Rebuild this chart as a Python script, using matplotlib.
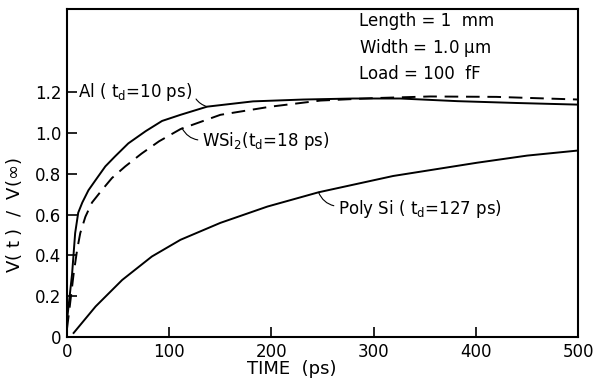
import matplotlib
matplotlib.use("Agg")
import matplotlib.pyplot as plt

# values
t_al = [0, 5, 8, 11, 15, 21, 28, 37.5, 47, 60, 77, 93, 111, 137, 182, 231, 280,
        326, 382, 440, 500]
v_al = [0.08, 0.31, 0.51, 0.61, 0.66, 0.72, 0.77, 0.837, 0.886, 0.95, 1.01, 1.06,
        1.09, 1.13, 1.156, 1.165, 1.17, 1.17, 1.157, 1.148, 1.14]

t_wsi = [0, 2, 6.5, 10, 13, 18, 24.5, 34, 44, 57, 73, 90, 111, 150, 199, 248, 300,
         355, 420, 500]
v_wsi = [0.04, 0.12, 0.31, 0.43, 0.51, 0.59, 0.66, 0.72, 0.78, 0.837, 0.90, 0.96,
         1.02, 1.09, 1.13, 1.16, 1.172, 1.18, 1.178, 1.165]

t_poly = [6.5, 28, 54, 83, 111, 150, 196, 246, 319, 401, 450, 500]
v_poly = [0.02, 0.15, 0.28, 0.395, 0.477, 0.56, 0.64, 0.71, 0.79, 0.855, 0.89, 0.915]

x_ticks = [0, 100, 200, 300, 400, 500]
y_ticks = [0, 0.2, 0.4, 0.6, 0.8, 1.0, 1.2]
y_ticklabels = ["0", "0.2", "0.4", "0.6", "0.8", "1.0", "1.2"]

plt.rcParams["font.family"] = "DejaVu Sans"
plt.rcParams["mathtext.default"] = "regular"

fig = plt.figure(figsize=(5.98, 3.83), dpi=100)
ax = fig.add_axes([0.112, 0.12, 0.855, 0.857])

ax.plot(t_al, v_al, color="black", lw=1.4)
ax.plot(t_wsi, v_wsi, color="black", lw=1.4, dashes=(7, 4))
ax.plot(t_poly, v_poly, color="black", lw=1.4)

ax.set_xlim(0, 500)
ax.set_ylim(0, 1.61)
ax.set_xticks(x_ticks)
ax.set_yticks(y_ticks)
ax.set_yticklabels(y_ticklabels)
ax.tick_params(direction="in", length=7, width=1.2, labelsize=12, pad=4)
for sp in ax.spines.values():
    sp.set_linewidth(1.5)

ax.set_xlabel("TIME  (ps)", fontsize=13, labelpad=0)
ax.xaxis.set_label_coords(0.44, -0.07)
ax.set_ylabel("V( t )  /  V($\\infty$)", fontsize=13)
ax.yaxis.set_label_coords(-0.085, 0.37)

leader = dict(arrowstyle="-", lw=0.8, color="black", shrinkA=1, shrinkB=0)
ax.annotate("Al ( t$_d$=10 ps)", xy=(137, 1.13), xytext=(11, 1.20),
            fontsize=12, va="center",
            arrowprops=dict(leader, relpos=(1.0, 0.6),
                            connectionstyle="arc3,rad=0.3"))
ax.annotate("WSi$_2$(t$_d$=18 ps)", xy=(112.5, 1.025), xytext=(132, 0.96),
            fontsize=12, va="center",
            arrowprops=dict(leader, relpos=(0.0, 0.55),
                            connectionstyle="arc3,rad=-0.3"))
ax.annotate("Poly Si ( t$_d$=127 ps)", xy=(246, 0.71), xytext=(265, 0.63),
            fontsize=12, va="center",
            arrowprops=dict(leader, relpos=(0.0, 0.6),
                            connectionstyle="arc3,rad=-0.3"))

ax.text(286, 1.55, "Length = 1  mm", fontsize=12, va="center")
ax.text(286, 1.42, "Width = 1.0 $\\mu$m", fontsize=12, va="center")
ax.text(286, 1.29, "Load = 100  fF", fontsize=12, va="center")

fig.savefig("out.png", dpi=100)
